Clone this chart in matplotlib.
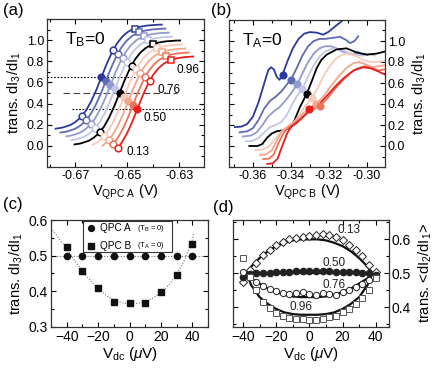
import numpy as np
import matplotlib
matplotlib.use("Agg")
import matplotlib.pyplot as plt
from matplotlib.ticker import MultipleLocator
from matplotlib.patches import Rectangle

plt.rcParams['font.family'] = ['Liberation Sans', 'DejaVu Sans']
plt.rcParams['mathtext.fontset'] = 'custom'
plt.rcParams['mathtext.rm'] = 'Liberation Sans'
plt.rcParams['mathtext.it'] = 'Liberation Sans:italic'

# ---------------- data: panel (a) ----------------
a_base_dv = [-22, -18, -15, -12, -10, -8, -6, -4, -2, 0, 2, 4, 6, 8, 10, 12, 15, 18, 22, 26]
a_base_t = [0.004, 0.011, 0.023, 0.047, 0.076, 0.119, 0.182, 0.269, 0.377, 0.5,
            0.623, 0.731, 0.818, 0.881, 0.924, 0.953, 0.977, 0.989, 0.996, 0.998]
a_colors = ['#2B3A9A', '#5F6BB4', '#9299CF', '#C3C6E6', '#000000',
            '#F7CBB8', '#F3A88E', '#EC7559', '#E61F1D']
a_centers = [-0.6600, -0.6583, -0.6565, -0.6548, -0.6530, -0.6513, -0.6496, -0.6478, -0.6461]
a_offsets = [0.15, 0.1125, 0.075, 0.0375, 0.0, -0.0375, -0.075, -0.1125, -0.15]
a_dv_start = [-17.7, -17.5, -17.0, -16.7, -17.4, -12.0, -10.0, -8.0, -6.5]
a_dv_end = [23.3, 23.0, 22.5, 22.0, 23.4, 22.5, 22.0, 21.5, 21.5]
a_levels = [0.13, 0.76, 0.96]
a_level_markers = ['o', 'o', 's']
a_half = 0.5

# ---------------- data: panel (b) ----------------
b_curves = [
    [(-0.3695, 0.18), (-0.366, 0.185), (-0.363, 0.21), (-0.360, 0.28), (-0.357, 0.42),
     (-0.354, 0.60), (-0.352, 0.72), (-0.3505, 0.75), (-0.349, 0.73), (-0.3475, 0.66),
     (-0.346, 0.63), (-0.3444, 0.68), (-0.342, 0.80), (-0.339, 0.93), (-0.336, 1.02),
     (-0.333, 1.07), (-0.330, 1.085), (-0.3265, 1.08), (-0.323, 1.06), (-0.320, 1.09),
     (-0.316, 1.15), (-0.3125, 1.2)],
    [(-0.367, 0.13), (-0.363, 0.14), (-0.360, 0.17), (-0.357, 0.25), (-0.354, 0.36),
     (-0.351, 0.43), (-0.348, 0.47), (-0.345, 0.52), (-0.342, 0.59), (-0.340, 0.632),
     (-0.337, 0.74), (-0.334, 0.86), (-0.331, 0.95), (-0.328, 1.0), (-0.325, 1.02),
     (-0.322, 1.02), (-0.318, 1.03), (-0.3142, 1.04), (-0.311, 1.01), (-0.3089, 0.98),
     (-0.3065, 1.0), (-0.3046, 1.045)],
    [(-0.3653, 0.09), (-0.361, 0.10), (-0.358, 0.13), (-0.355, 0.20), (-0.352, 0.28),
     (-0.349, 0.33), (-0.346, 0.37), (-0.343, 0.43), (-0.340, 0.50), (-0.3367, 0.587),
     (-0.334, 0.69), (-0.331, 0.80), (-0.328, 0.88), (-0.325, 0.93), (-0.322, 0.95),
     (-0.319, 0.95), (-0.316, 0.93), (-0.313, 0.90), (-0.310, 0.88), (-0.307, 0.87),
     (-0.305, 0.90), (-0.303, 0.88), (-0.300, 0.87)],
    [(-0.3636, 0.045), (-0.360, 0.05), (-0.357, 0.08), (-0.354, 0.13), (-0.351, 0.18),
     (-0.348, 0.20), (-0.345, 0.23), (-0.342, 0.30), (-0.339, 0.41), (-0.336, 0.50),
     (-0.334, 0.546), (-0.331, 0.66), (-0.328, 0.77), (-0.325, 0.85), (-0.322, 0.90),
     (-0.318, 0.93), (-0.314, 0.92), (-0.310, 0.89), (-0.306, 0.87), (-0.302, 0.86),
     (-0.299, 0.88), (-0.296, 0.86)],
    [(-0.3619, 0.0), (-0.3575, 0.0), (-0.355, 0.02), (-0.3525, 0.08), (-0.350, 0.12),
     (-0.3475, 0.14), (-0.344, 0.15), (-0.3405, 0.17), (-0.338, 0.25), (-0.3353, 0.37),
     (-0.3316, 0.5), (-0.329, 0.62), (-0.3265, 0.74), (-0.324, 0.82), (-0.3212, 0.87),
     (-0.316, 0.92), (-0.3107, 0.93), (-0.3054, 0.89), (-0.300, 0.87), (-0.2949, 0.88),
     (-0.2905, 0.90)],
    [(-0.3589, -0.04), (-0.355, -0.035), (-0.352, -0.01), (-0.349, 0.05), (-0.346, 0.12),
     (-0.343, 0.17), (-0.340, 0.20), (-0.337, 0.26), (-0.334, 0.34), (-0.3315, 0.40),
     (-0.3291, 0.457), (-0.326, 0.55), (-0.323, 0.66), (-0.320, 0.75), (-0.317, 0.82),
     (-0.314, 0.86), (-0.311, 0.88), (-0.308, 0.87), (-0.305, 0.85), (-0.302, 0.82),
     (-0.298, 0.80), (-0.294, 0.80), (-0.2905, 0.81)],
    [(-0.3563, -0.085), (-0.353, -0.08), (-0.350, -0.04), (-0.3475, 0.05), (-0.345, 0.13),
     (-0.342, 0.18), (-0.339, 0.22), (-0.336, 0.27), (-0.333, 0.32), (-0.330, 0.36),
     (-0.3268, 0.397), (-0.323, 0.47), (-0.319, 0.57), (-0.315, 0.66), (-0.311, 0.74),
     (-0.307, 0.79), (-0.304, 0.80), (-0.301, 0.78), (-0.297, 0.75), (-0.294, 0.76),
     (-0.2905, 0.77)],
    [(-0.3546, -0.125), (-0.3515, -0.12), (-0.349, -0.08), (-0.3465, 0.03), (-0.344, 0.12),
     (-0.341, 0.18), (-0.338, 0.22), (-0.335, 0.26), (-0.332, 0.31), (-0.328, 0.35),
     (-0.3247, 0.38), (-0.321, 0.45), (-0.317, 0.54), (-0.313, 0.62), (-0.309, 0.69),
     (-0.305, 0.74), (-0.301, 0.76), (-0.297, 0.74), (-0.294, 0.72), (-0.2905, 0.73)],
    [(-0.3525, -0.17), (-0.3495, -0.165), (-0.347, -0.12), (-0.345, -0.02), (-0.3435, 0.05),
     (-0.342, 0.12), (-0.340, 0.18), (-0.337, 0.22), (-0.334, 0.27), (-0.3317, 0.31),
     (-0.3305, 0.35), (-0.328, 0.38), (-0.324, 0.42), (-0.320, 0.50), (-0.316, 0.58),
     (-0.312, 0.65), (-0.307, 0.72), (-0.302, 0.75), (-0.298, 0.74), (-0.294, 0.71),
     (-0.2905, 0.68)],
]
b_dots = [(-0.3444, 0.68), (-0.340, 0.632), (-0.3367, 0.587), (-0.334, 0.546), (-0.3316, 0.5),
          (-0.3291, 0.457), (-0.3268, 0.397), (-0.3247, 0.38), (-0.3305, 0.35)]

# ---------------- data: panel (c) ----------------
c_vdc = [-40, -30, -20, -10, 0, 10, 20, 30, 40]
c_qpc_a = [0.5, 0.5, 0.5, 0.5, 0.5, 0.5, 0.5, 0.5, 0.5]
c_qpc_b = [0.523, 0.458, 0.408, 0.371, 0.366, 0.367, 0.397, 0.446, 0.533]
c_fit_x = [-50, -45, -40, -35, -30, -25, -20, -15, -10, -5, 0, 5, 10, 15, 20, 25, 30, 35, 40, 41]
c_fit_y = [0.578, 0.548, 0.52, 0.487, 0.457, 0.43, 0.407, 0.389, 0.375, 0.368, 0.365, 0.366,
           0.371, 0.381, 0.396, 0.417, 0.446, 0.487, 0.545, 0.563]
c_legend = ['QPC A', 'QPC B']
c_legend_sub = [r'(T$_\mathrm{B}$ = 0)', r'(T$_\mathrm{A}$ = 0)']

# ---------------- data: panel (d) ----------------
d_vdc = [-40, -36, -32, -28, -24, -20, -16, -12, -8, -4, 0, 4, 8, 12, 16, 20, 24, 28, 32, 36, 40]
d_t013 = [0.475, 0.51, 0.53, 0.553, 0.57, 0.583, 0.592, 0.60, 0.605, 0.608, 0.61, 0.612, 0.615,
          0.612, 0.606, 0.597, 0.583, 0.568, 0.55, 0.525, 0.505]
d_t050 = [0.49, 0.498, 0.5, 0.501, 0.502, 0.503, 0.504, 0.505, 0.506, 0.506, 0.507, 0.507, 0.507,
          0.506, 0.505, 0.505, 0.504, 0.503, 0.502, 0.5, 0.495]
d_t076 = [0.505, 0.49, 0.475, 0.463, 0.455, 0.448, 0.443, 0.44, 0.443, 0.445, 0.44, 0.436, 0.443,
          0.44, 0.437, 0.445, 0.452, 0.46, 0.468, 0.48, 0.49]
d_t096 = [0.545, 0.49, 0.45, 0.415, 0.397, 0.383, 0.374, 0.369, 0.366, 0.365, 0.364, 0.364,
          0.366, 0.37, 0.375, 0.385, 0.396, 0.41, 0.428, 0.452, 0.485]
d_line_x = [-38, -35, -30, -25, -20, -15, -10, -5, 0, 5, 10, 15, 20, 25, 30, 35, 38]
d_line013 = [0.50, 0.52, 0.545, 0.565, 0.58, 0.59, 0.597, 0.60, 0.60, 0.60, 0.597, 0.59, 0.58,
             0.565, 0.545, 0.52, 0.50]
d_line050 = [0.50] * 17
d_line076 = [0.50, 0.485, 0.47, 0.455, 0.445, 0.437, 0.432, 0.43, 0.43, 0.43, 0.432, 0.437, 0.445,
             0.455, 0.47, 0.485, 0.50]
d_line096 = [0.50, 0.465, 0.43, 0.41, 0.395, 0.385, 0.38, 0.378, 0.378, 0.378, 0.38, 0.385, 0.395,
             0.41, 0.43, 0.465, 0.50]
d_labels = ['0.13', '0.50', '0.76', '0.96']
d_label_pos = [(24, 0.627), (15, 0.531), (15, 0.466), (-5, 0.40)]

# ---------------- figure ----------------
W, H = 436, 369
fig = plt.figure(figsize=(W / 100, H / 100), dpi=100)


def ax_px(l, t, r, b):
    return fig.add_axes([l / W, 1 - b / H, (r - l) / W, (b - t) / H])


def style(ax):
    ax.tick_params(which='both', direction='in', top=True, right=True, left=True, bottom=True,
                   labelsize=9, width=0.8, pad=2)
    ax.tick_params(which='major', length=3.5)
    ax.tick_params(which='minor', length=2)
    for s in ax.spines.values():
        s.set_linewidth(0.9)
        s.set_color('#333333')


LS = 10.5

# panel (a)
axa = ax_px(47, 19, 204, 167)
style(axa)
base_dv = np.array(a_base_dv)
base_t = np.array(a_base_t)
for i, col in enumerate(a_colors):
    m = (base_dv >= a_dv_start[i] - 0.01) & (base_dv <= a_dv_end[i] + 0.01)
    dv = np.concatenate([[a_dv_start[i]], base_dv[m], [a_dv_end[i]]])
    tt = np.interp(dv, base_dv, base_t)
    axa.plot(a_centers[i] + dv / 1000, tt + a_offsets[i], color=col, lw=1.3, zorder=2)
axa.plot([-0.681, -0.647], [0.65, 0.65], color='k', lw=0.8, ls=(0, (1.5, 1.5)), zorder=1)
axa.plot([-0.6748, -0.631], [0.5, 0.5], color='#444444', lw=0.8, ls=(0, (6, 3)), zorder=1)
axa.plot([-0.6714, -0.620], [0.35, 0.35], color='k', lw=0.8, ls=(0, (1.5, 1.5)), zorder=1)
for lev, mk in zip(a_levels, a_level_markers):
    dvl = np.interp(lev, base_t, base_dv)
    for i, col in enumerate(a_colors):
        axa.plot(a_centers[i] + dvl / 1000, lev + a_offsets[i], marker=mk, ms=4.8, mfc='white',
                 mec=col, mew=1.1, zorder=4)
dvh = np.interp(a_half, base_t, base_dv)
for i, col in enumerate(a_colors):
    axa.plot(a_centers[i] + dvh / 1000, a_half + a_offsets[i], marker='o', ms=4.8, mfc=col,
             mec=col, zorder=4)
axa.text(-0.6312, 0.72, '0.96', fontsize=8.5, ha='left', va='center')
axa.text(-0.6383, 0.525, '0.76', fontsize=8.5, ha='left', va='center')
axa.text(-0.6436, 0.265, '0.50', fontsize=8.5, ha='left', va='center')
axa.text(-0.6502, -0.055, '0.13', fontsize=8.5, ha='left', va='center')
axa.text(-0.6742, 1.0, r'T$_\mathrm{B}$=0', fontsize=12.5, ha='left', va='center')
axa.set_xlim(-0.681, -0.6204)
axa.set_ylim(-0.2, 1.2)
axa.set_xticks([-0.67, -0.65, -0.63])
axa.set_xticklabels(['-0.67', '-0.65', '-0.63'])
axa.xaxis.set_minor_locator(MultipleLocator(0.01))
axa.set_yticks([0.0, 0.2, 0.4, 0.6, 0.8, 1.0])
axa.set_yticklabels(['0.0', '0.2', '0.4', '0.6', '0.8', '1.0'])
axa.yaxis.set_minor_locator(MultipleLocator(0.1))
axa.set_xlabel(r'V$_\mathrm{QPC\ A}$ (V)', fontsize=LS, labelpad=1)
axa.set_ylabel(r'trans. dI$_3$/dI$_1$', fontsize=LS, labelpad=3)

# panel (b)
axb = ax_px(229, 20, 385, 167)
style(axb)
for cur, col in zip(b_curves, a_colors):
    arr = np.array(cur)
    axb.plot(arr[:, 0], arr[:, 1], color=col, lw=1.3, zorder=2)
for (x, y), col in zip(b_dots, a_colors):
    axb.plot(x, y, marker='o', ms=4.8, mfc=col, mec=col, zorder=4)
axb.text(-0.3655, 1.0, r'T$_\mathrm{A}$=0', fontsize=12.5, ha='left', va='center')
axb.set_xlim(-0.3726, -0.2905)
axb.set_ylim(-0.2, 1.2)
axb.set_xticks([-0.36, -0.34, -0.32, -0.30])
axb.set_xticklabels(['-0.36', '-0.34', '-0.32', '-0.30'])
axb.xaxis.set_minor_locator(MultipleLocator(0.01))
axb.set_yticks([0.0, 0.2, 0.4, 0.6, 0.8, 1.0])
axb.set_yticklabels(['0.0', '0.2', '0.4', '0.6', '0.8', '1.0'])
axb.yaxis.set_minor_locator(MultipleLocator(0.1))
axb.yaxis.tick_right()
axb.yaxis.set_label_position('right')
axb.tick_params(which='both', left=True, right=True, labelleft=False, labelright=True)
axb.set_xlabel(r'V$_\mathrm{QPC\ B}$ (V)', fontsize=LS, labelpad=1)
axb.set_ylabel(r'trans. dI$_3$/dI$_1$', fontsize=LS, labelpad=4)

# panel (c)
axc = ax_px(51, 220, 208, 327)
style(axc)
axc.axhline(0.5, color='#777777', lw=0.8, ls=(0, (1, 1.5)), zorder=1)
axc.plot(c_fit_x, c_fit_y, color='#777777', lw=0.8, ls=(0, (1, 1.5)), zorder=1)
axc.plot(c_vdc, c_qpc_a, ls='none', marker='o', ms=4.5, color='#111111', zorder=3)
axc.plot(c_vdc, c_qpc_b, ls='none', marker='s', ms=4.0, color='#111111', zorder=3)
axc.add_patch(Rectangle((0.205, 0.70), 0.565, 0.288, transform=axc.transAxes, fill=True,
                        facecolor='white', edgecolor='#333333', lw=0.8, zorder=5))
for j, (mk, nm, sub) in enumerate(zip(['o', 's'], c_legend, c_legend_sub)):
    yy = 0.925 - j * 0.165
    axc.plot(0.255, yy, marker=mk, ms=4.2 if mk == 'o' else 3.8, color='#111111',
             transform=axc.transAxes, zorder=6)
    axc.text(0.31, yy, nm, fontsize=7.2, ha='left', va='center', transform=axc.transAxes, zorder=6)
    axc.text(0.545, yy, sub, fontsize=5.5, ha='left', va='center', transform=axc.transAxes,
             zorder=6)
axc.set_xlim(-50, 50)
axc.set_ylim(0.3, 0.6)
axc.set_xticks([-40, -20, 0, 20, 40])
axc.xaxis.set_minor_locator(MultipleLocator(10))
axc.set_yticks([0.3, 0.4, 0.5, 0.6])
axc.set_yticklabels(['0.3', '0.4', '0.5', '0.6'])
axc.yaxis.set_minor_locator(MultipleLocator(0.05))
axc.tick_params(labelsize=10)
axc.set_xlabel(r'V$_\mathrm{dc}$ ($\mu$V)', fontsize=LS + 0.5, labelpad=1)
axc.set_ylabel(r'trans. dI$_3$/dI$_1$', fontsize=LS, labelpad=3)

# panel (d)
axd = ax_px(233, 220, 389, 327)
style(axd)
for ly in [d_line013, d_line050, d_line076, d_line096]:
    axd.plot(d_line_x, ly, color='#111111', lw=1.6, zorder=2)
axd.plot(d_vdc, d_t013, ls='none', marker='D', ms=4.0, mfc='white', mec='#222222', mew=0.7, zorder=3)
axd.plot(d_vdc, d_t050, ls='none', marker='o', ms=4.5, mfc='#222222', mec='#222222', zorder=3)
axd.plot(d_vdc, d_t076, ls='none', marker='o', ms=4.5, mfc='white', mec='#222222', mew=0.7, zorder=3)
axd.plot(d_vdc, d_t096, ls='none', marker='s', ms=4.3, mfc='white', mec='#555555', mew=0.7, zorder=3)
for lab, (x, y) in zip(d_labels, d_label_pos):
    axd.text(x, y, lab, fontsize=8.5, ha='center', va='center', color='#222222', zorder=6)
axd.set_xlim(-46, 48)
axd.set_ylim(0.342, 0.657)
axd.set_xticks([-40, -20, 0, 20, 40])
axd.xaxis.set_minor_locator(MultipleLocator(10))
axd.set_yticks([0.4, 0.5, 0.6])
axd.yaxis.set_minor_locator(MultipleLocator(0.05))
axd.yaxis.tick_right()
axd.yaxis.set_label_position('right')
axd.tick_params(which='both', left=True, right=True, labelleft=False, labelright=True, labelsize=10)
axd.set_xlabel(r'V$_\mathrm{dc}$ ($\mu$V)', fontsize=LS + 0.5, labelpad=1)
axd.set_ylabel(r'trans. <dI$_2$/dI$_1$>', fontsize=LS, labelpad=4)

fig.text(3 / W, 1 - 10 / H, '(a)', fontsize=12, va='center', ha='left')
fig.text(211 / W, 1 - 10 / H, '(b)', fontsize=12, va='center', ha='left')
fig.text(3 / W, 1 - 204 / H, '(c)', fontsize=12, va='center', ha='left')
fig.text(213 / W, 1 - 208 / H, '(d)', fontsize=12, va='center', ha='left')

fig.savefig('out.png', dpi=100)
